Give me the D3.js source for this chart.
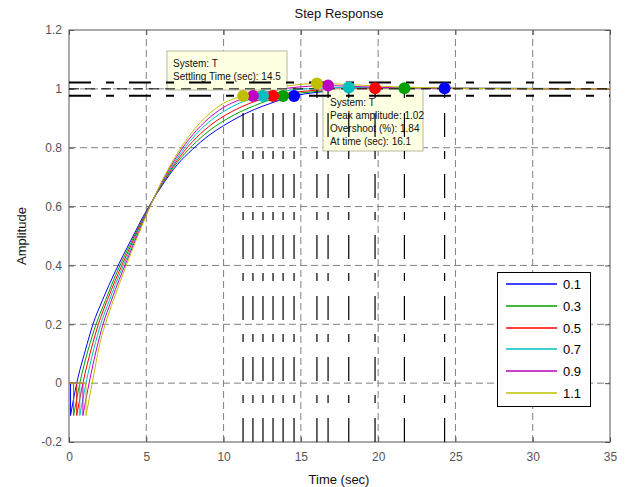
<!DOCTYPE html>
<html>
<head>
<meta charset="utf-8">
<script src="https://cdn.jsdelivr.net/npm/d3@7"></script>
<style>
body { margin: 0; background: #fff; }
text { font-family: Arial, "Liberation Sans", sans-serif; }
</style>
</head>
<body>
<div id="chart"></div>
<script>
// legend labels (delay) and colours
const delays = ['0.1', '0.3', '0.5', '0.7', '0.9', '1.1']
const colors = ['#0000ff', '#00a000', '#ff0000', '#00bfbf', '#bf00bf', '#bfbf00']

// step responses: [time, amplitude]
const resp01 = [[0,0],[0.1,0],[0.1,-0.11],[0.5,0],[1.05,0.11],[1.55,0.2],[2.15,0.28],[3,0.38],[4,0.485],[5,0.585],[6,0.67],[7,0.742],[8,0.795],[9,0.84],[10,0.875],[11,0.905],[12,0.93],[13,0.95],[14.56,0.976],[16,0.988],[18,0.995],[20,0.999],[24.3,1.002],[35,1.001]]
const resp03 = [[0,0],[0.3,0],[0.3,-0.11],[0.7,0],[1.25,0.115],[1.75,0.2],[2.35,0.28],[3,0.365],[4,0.476],[5,0.582],[6,0.673],[7,0.75],[8,0.808],[9,0.855],[10,0.891],[11,0.92],[12,0.943],[13.85,0.976],[16,0.991],[18,0.997],[21.7,1.002],[35,1.001]]
const resp05 = [[0,0],[0.5,0],[0.5,-0.11],[0.9,0],[1.45,0.118],[1.9,0.2],[2.5,0.285],[3,0.35],[4,0.467],[5,0.579],[6,0.676],[7,0.757],[8,0.821],[9,0.87],[10,0.907],[11,0.935],[12,0.957],[13.2,0.976],[15,0.991],[17,0.998],[19.8,1.002],[35,1.0]]
const resp07 = [[0,0],[0.7,0],[0.7,-0.11],[1.1,0],[1.6,0.115],[2.05,0.2],[2.6,0.28],[3,0.335],[4,0.458],[5,0.576],[6,0.679],[7,0.764],[8,0.833],[9,0.885],[10,0.923],[11,0.951],[12.55,0.976],[14,0.993],[16,1.002],[18.1,1.005],[22,1.002],[35,1.0]]
const resp09 = [[0,0],[0.9,0],[0.9,-0.11],[1.3,0],[1.8,0.12],[2.2,0.2],[2.7,0.275],[3,0.318],[4,0.449],[5,0.573],[6,0.682],[7,0.772],[8,0.844],[9,0.898],[10,0.937],[11,0.962],[11.9,0.976],[13.5,0.997],[15,1.007],[16.76,1.011],[19,1.007],[23,1.002],[35,1.0]]
const resp11 = [[0,0],[1.1,0],[1.1,-0.11],[1.5,0],[2,0.135],[2.5,0.225],[3,0.3],[4,0.44],[5,0.57],[6,0.685],[7,0.78],[8,0.855],[9,0.912],[10,0.951],[11.26,0.976],[12.5,0.995],[14,1.009],[16.04,1.018],[18,1.015],[20,1.009],[23,1.004],[27,1.001],[35,1.0]]
const responses = [resp01, resp03, resp05, resp07, resp09, resp11]

// characteristic points
const settleTimes = [14.56, 13.85, 13.2, 12.55, 11.9, 11.26]
const settleVals = [0.976, 0.976, 0.976, 0.976, 0.976, 0.976]
const peakTimes = [24.3, 21.7, 19.8, 18.1, 16.76, 16.04]
const peakVals = [1.002, 1.002, 1.002, 1.005, 1.011, 1.018]
const bandLevels = [1.022, 1.0, 0.977]

const xTicks = [0, 5, 10, 15, 20, 25, 30, 35]
const yTicks = [-0.2, 0, 0.2, 0.4, 0.6, 0.8, 1, 1.2]

const tip1Lines = ['System: T', 'Settling Time (sec): 14.5']
const tip2Lines = ['System: T', 'Peak amplitude: 1.02', 'Overshoot (%): 1.84', 'At time (sec): 16.1']

const width = 626, height = 487
const margin = {left: 69, top: 30, right: 16, bottom: 45}

const svg = d3.select('#chart').append('svg')
    .attr('width', width)
    .attr('height', height)
svg.append('rect').attr('width', width).attr('height', height).attr('fill', '#fff')

const x = d3.scaleLinear().domain([0, 35]).range([margin.left, width - margin.right])
const y = d3.scaleLinear().domain([-0.2, 1.2]).range([height - margin.bottom, margin.top])

// grid
svg.append('g').selectAll('line')
    .data(xTicks.slice(1, -1))
    .enter().append('line')
    .attr('x1', d => x(d)).attr('x2', d => x(d))
    .attr('y1', y(-0.2)).attr('y2', y(1.2))
    .attr('stroke', '#808080').attr('stroke-dasharray', '7,4')
svg.append('g').selectAll('line')
    .data(yTicks.slice(1, -1))
    .enter().append('line')
    .attr('x1', x(0)).attr('x2', x(35))
    .attr('y1', d => y(d)).attr('y2', d => y(d))
    .attr('stroke', '#808080').attr('stroke-dasharray', '7,4')

// axes, ticks pointing inside
const fmt = d => String(+d.toFixed(1))
svg.append('g')
    .attr('transform', `translate(0,${y(-0.2)})`)
    .call(d3.axisBottom(x).tickValues(xTicks).tickSize(-5).tickPadding(10).tickFormat(fmt))
svg.append('g')
    .attr('transform', `translate(${x(0)},0)`)
    .call(d3.axisLeft(y).tickValues(yTicks).tickSize(-5).tickPadding(7).tickFormat(fmt))
svg.append('g')
    .attr('transform', `translate(0,${y(1.2)})`)
    .call(d3.axisTop(x).tickValues(xTicks).tickSize(-5).tickFormat(''))
svg.append('g')
    .attr('transform', `translate(${x(35)},0)`)
    .call(d3.axisRight(y).tickValues(yTicks).tickSize(-5).tickFormat(''))
svg.selectAll('.domain').remove()
svg.selectAll('.tick line').attr('stroke', '#555')
svg.selectAll('.tick text').attr('fill', '#555').style('font-size', '12px')

svg.append('rect')
    .attr('x', x(0)).attr('y', y(1.2))
    .attr('width', x(35) - x(0)).attr('height', y(-0.2) - y(1.2))
    .attr('fill', 'none').attr('stroke', '#555')

// responses: vertical drop drawn straight, rise drawn smooth
const riseLine = d3.line().x(d => x(d[0])).y(d => y(d[1])).curve(d3.curveMonotoneX)
const stepLine = d3.line().x(d => x(d[0])).y(d => y(d[1]))
responses.forEach((r, i) => {
    svg.append('path').attr('d', stepLine(r.slice(0, 3)))
        .attr('fill', 'none').attr('stroke', colors[i]).attr('stroke-width', 1)
    svg.append('path').attr('d', riseLine(r.slice(2)))
        .attr('fill', 'none').attr('stroke', colors[i]).attr('stroke-width', 1)
})

// data tips
function tip (bx, by, bw, bh, lines, tx, ty) {
    svg.append('rect')
        .attr('x', bx).attr('y', by).attr('width', bw).attr('height', bh)
        .attr('fill', '#ffffe1').attr('stroke', '#b8b8a0')
    svg.append('g').selectAll('text')
        .data(lines)
        .enter().append('text')
        .attr('x', tx).attr('y', (d, i) => ty + i * 13)
        .style('font-size', '10px')
        .attr('fill', '#111')
        .text(d => d)
}
tip(167, 51, 120, 39, tip1Lines, 173, 67)
tip(323, 89, 100, 62, tip2Lines, 330, 106)

// settling band / final value lines
svg.append('g').selectAll('line')
    .data(bandLevels)
    .enter().append('line')
    .attr('x1', x(0)).attr('x2', x(35))
    .attr('y1', d => y(d)).attr('y2', d => y(d))
    .attr('stroke', '#000').attr('stroke-width', (d, i) => i === 1 ? 1 : 2)
    .attr('stroke-dasharray', (d, i) => i === 1 ? '10,6' : '22,15,8,15')

// vertical markers from the bottom up to each point
const markT = settleTimes.concat(peakTimes)
const markV = settleVals.concat(peakVals)
svg.append('g').selectAll('line')
    .data(markT)
    .enter().append('line')
    .attr('x1', d => x(d)).attr('x2', d => x(d))
    .attr('y1', y(-0.2)).attr('y2', (d, i) => y(markV[i]))
    .attr('stroke', '#000').attr('stroke-width', 1.2)
    .attr('stroke-dasharray', '24,15,8,14')

// markers
colors.forEach((c, i) => {
    svg.append('circle').attr('cx', x(settleTimes[i])).attr('cy', y(settleVals[i])).attr('r', 6).attr('fill', c)
    svg.append('circle').attr('cx', x(peakTimes[i])).attr('cy', y(peakVals[i])).attr('r', 6).attr('fill', c)
})

// titles
svg.append('text').attr('x', 339).attr('y', 18).attr('text-anchor', 'middle')
    .style('font-size', '13px').attr('fill', '#111').text('Step Response')
svg.append('text').attr('x', 339).attr('y', 484).attr('text-anchor', 'middle')
    .style('font-size', '13px').attr('fill', '#111').text('Time (sec)')
svg.append('text').attr('transform', 'translate(26,236) rotate(-90)').attr('text-anchor', 'middle')
    .style('font-size', '13px').attr('fill', '#111').text('Amplitude')

// legend
const leg = svg.append('g')
leg.append('rect').attr('x', 497.5).attr('y', 272.5).attr('width', 93).attr('height', 134)
    .attr('fill', '#fff').attr('stroke', '#000')
delays.forEach((d, i) => {
    const ly = Math.round(284 + i * 21.8)
    leg.append('line').attr('x1', 506).attr('x2', 557).attr('y1', ly).attr('y2', ly)
        .attr('stroke', colors[i]).attr('stroke-width', 1.6)
    leg.append('text').attr('x', 563).attr('y', ly + 5)
        .style('font-size', '13px').attr('fill', '#000').text(d)
})
</script>
</body>
</html>
